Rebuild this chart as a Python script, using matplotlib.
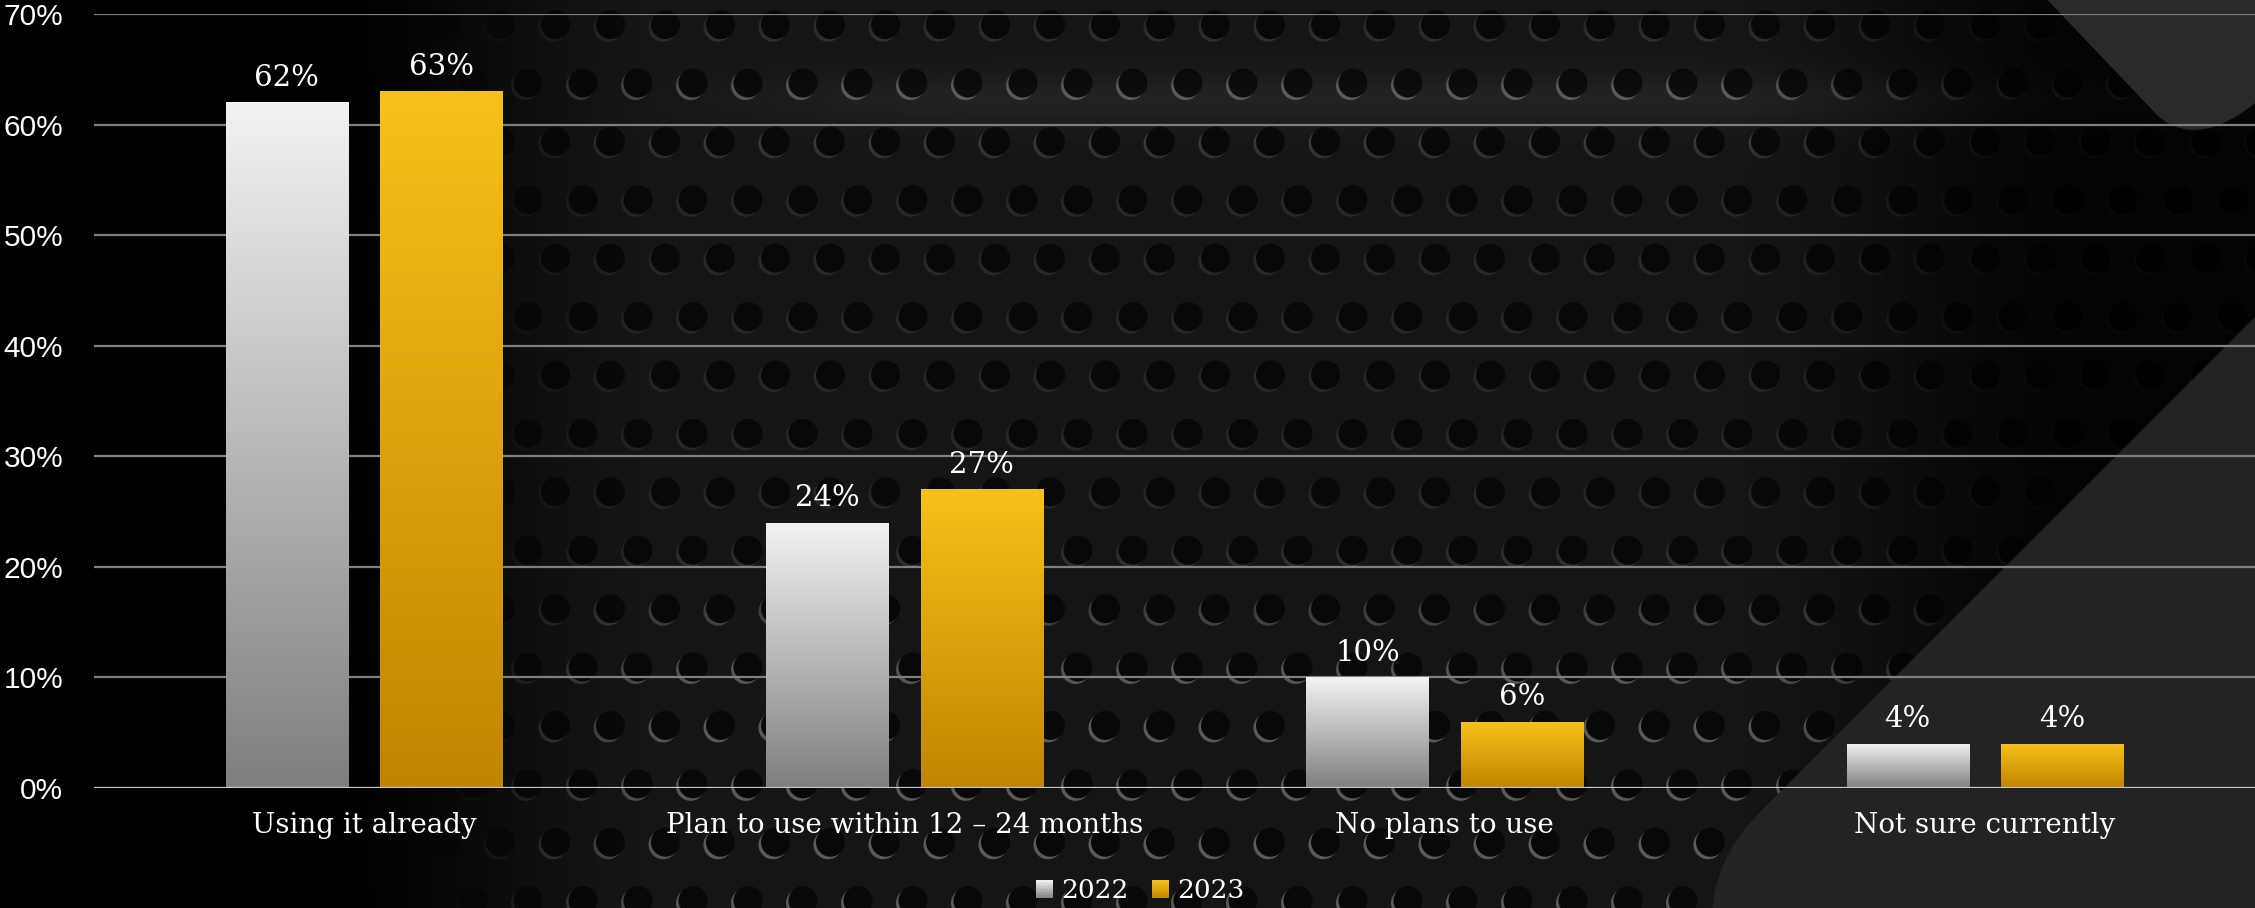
#!/usr/bin/env python3
"""Adoption status 2022 vs 2023, grouped bars on a perforated-metal backdrop.

Writes out.png (2255x908).
"""

import matplotlib
matplotlib.use("Agg")
import matplotlib.pyplot as plt
import numpy as np
from matplotlib.legend_handler import HandlerBase
from matplotlib.patches import PathPatch, Rectangle
from matplotlib.path import Path


CATEGORIES = [
    "Using it already",
    "Plan to use within 12 \u2013 24 months",
    "No plans to use",
    "Not sure currently",
]
SERIES = ["2022", "2023"]
VALUES_2022 = [62, 24, 10, 4]
VALUES_2023 = [63, 27, 6, 4]
Y_TICKS = [0, 10, 20, 30, 40, 50, 60, 70]

# gradient (top colour, bottom colour) per series
GRADIENTS = {
    "2022": ("#f3f3f3", "#7f7f7f"),
    "2023": ("#f6c21a", "#c08500"),
}

W, H = 2255, 908
SERIF = ["DejaVu Serif"]
SANS = ["Liberation Sans", "DejaVu Sans"]


def sstep(t):
    t = np.clip(t, 0.0, 1.0)
    return t * t * (3 - 2 * t)


def hex_rgb(c):
    c = c.lstrip("#")
    return np.array([int(c[i:i + 2], 16) / 255 for i in (0, 2, 4)])


def background():
    yy, xx = np.mgrid[0:H, 0:W] + 0.5

    # base sheet: black on the far left, dark grey in the middle, fading right
    base = 0.085 * sstep((xx - 300) / 380)
    streak = 0.05 * np.exp(-((yy - 100) / 28) ** 2) * sstep((xx - 550) / 450)
    fade = 1 - 0.8 * sstep((xx - 1700) / 400)
    bg = (base + streak) * fade

    # hole lattice
    dx, dy = 55.0, 58.4
    j = np.round((yy - 83) / dy)
    cy = 83 + dy * j
    off = np.where(j % 2 == 0, 0.0, dx / 2)
    i = np.round((xx - 1188 - off) / dx)
    cx = 1188 + off + dx * i
    r = 14.5
    d = np.hypot(xx - cx, yy - cy)
    d_rim = np.hypot(xx - (cx - 2.5), yy - (cy + 2.5))
    hole = np.clip(r - d + 0.5, 0, 1)
    rim = np.clip(r - d_rim + 0.5, 0, 1) * (1 - hole)

    vis = sstep((xx - 420) / 300) * (1 - 0.85 * sstep((xx - 1700) / 350))
    rim_int = (0.07 + 0.2 * sstep((yy - 520) / 200)
               + 0.16 * np.exp(-((yy - 100) / 45) ** 2)) * vis

    img = bg * (1 - 0.6 * hole * sstep((xx - 350) / 250)) + rim * rim_int
    img = np.clip(img, 0, 1)
    return np.dstack([img, img, img * 1.02])


def draw_shapes(ax):
    bottom = Path(
        [(2265, 307), (1760, 812), (1712, 860), (1712, 920), (2265, 920), (2265, 307)],
        [Path.MOVETO, Path.LINETO, Path.CURVE3, Path.CURVE3, Path.LINETO, Path.CLOSEPOLY],
    )
    ax.add_patch(PathPatch(bottom, facecolor="#232325", edgecolor="none"))
    top = Path(
        [(2038, -10), (2158, 116), (2200, 152), (2265, 95), (2265, -10), (2038, -10)],
        [Path.MOVETO, Path.LINETO, Path.CURVE3, Path.CURVE3, Path.LINETO, Path.CLOSEPOLY],
    )
    ax.add_patch(PathPatch(top, facecolor="#2a2a2b", edgecolor="none"))


def gradient_image(top, bottom, n=256):
    t = np.linspace(0, 1, n)[:, None]
    rgb = hex_rgb(bottom) * (1 - t) + hex_rgb(top) * t
    return rgb[:, None, :]


class GradientHandler(HandlerBase):
    def __init__(self, top, bottom):
        super().__init__()
        self.top, self.bottom = top, bottom

    def create_artists(self, legend, orig_handle, xdescent, ydescent,
                       width, height, fontsize, trans):
        arts = []
        n = 12
        for k in range(n):
            t = (k + 0.5) / n
            col = hex_rgb(self.bottom) * (1 - t) + hex_rgb(self.top) * t
            arts.append(Rectangle((-xdescent, -ydescent + height * k / n), width,
                                  height / n + 0.3, facecolor=col, edgecolor="none",
                                  transform=trans))
        return arts


def main():
    fig = plt.figure(figsize=(W / 100, H / 100), dpi=100, facecolor="black")

    bg_ax = fig.add_axes([0, 0, 1, 1], zorder=0)
    bg_ax.imshow(background(), extent=(0, W, H, 0), interpolation="bilinear")
    draw_shapes(bg_ax)
    bg_ax.set_xlim(0, W)
    bg_ax.set_ylim(H, 0)
    bg_ax.axis("off")

    ax = fig.add_axes([94 / W, 1 - 788 / H, 1 - 94 / W, (788 - 14) / H], zorder=1)
    ax.set_facecolor("none")

    x = np.arange(len(CATEGORIES))
    width = 0.226
    shift = 0.143
    for name, vals, dx in ((SERIES[0], VALUES_2022, -shift), (SERIES[1], VALUES_2023, shift)):
        top, bottom = GRADIENTS[name]
        bars = ax.bar(x + dx, vals, width=width, color=top, zorder=3)
        for bar, v in zip(bars, vals):
            x0 = bar.get_x()
            im = ax.imshow(gradient_image(top, bottom), extent=(x0, x0 + width, 0, v),
                           origin="lower", aspect="auto", zorder=4, interpolation="bilinear")
            im.set_clip_path(bar)
            ax.annotate(f"{v}%", (x0 + width / 2, v), xytext=(0, 12),
                        textcoords="offset points", ha="center", va="baseline",
                        color="white", fontsize=21, family=SERIF, zorder=5)

    ax.set_xlim(-0.5, len(CATEGORIES) - 0.5)
    ax.set_ylim(0, 70)
    ax.set_yticks(Y_TICKS)
    ax.set_yticklabels([f"{t}%" for t in Y_TICKS], family=SANS, fontsize=21.5, color="white")
    ax.set_xticks(x)
    ax.set_xticklabels(CATEGORIES, family=SERIF, fontsize=20, color="white")
    ax.tick_params(axis="y", length=0, pad=22)
    ax.tick_params(axis="x", length=0, pad=17)
    for s in ax.spines.values():
        s.set_visible(False)
    for t in Y_TICKS[1:]:
        ax.axhline(t, color="#808080", lw=1.6, zorder=1)
    ax.axhline(0, color="#c8c8c8", lw=1.6, zorder=6)

    handles = [Rectangle((0, 0), 1, 1), Rectangle((0, 0), 1, 1)]
    fig.legend(
        handles, SERIES,
        loc="center", bbox_to_anchor=(1140 / W, 1 - 891 / H),
        ncol=2, frameon=False,
        prop={"family": SERIF, "size": 19},
        labelcolor="white",
        handlelength=0.65, handleheight=0.65,
        handletextpad=0.3, columnspacing=0.9,
        handler_map={
            handles[0]: GradientHandler(*GRADIENTS["2022"]),
            handles[1]: GradientHandler(*GRADIENTS["2023"]),
        },
    )

    fig.savefig("out.png", dpi=100, facecolor="black")
    plt.close(fig)


if __name__ == "__main__":
    main()
